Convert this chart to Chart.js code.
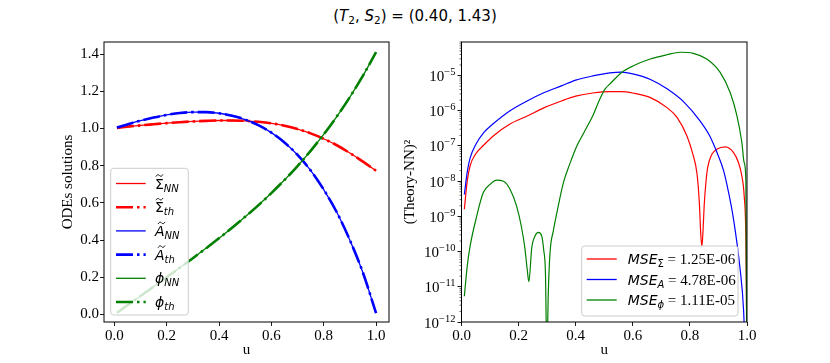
<!DOCTYPE html>
<html>
<head>
<meta charset="utf-8">
<script src="https://cdn.jsdelivr.net/npm/chart.js@4.4.1/dist/chart.umd.min.js"></script>
<style>
  body { margin: 0; background: #fff; width: 830px; height: 363px; overflow: hidden; position: relative; }
  #title { position: absolute; top: 7px; left: 0; width: 830px; text-align: center;
           font: 15px "DejaVu Sans"; color: #000; }
  #title sub { font-size: 70%; vertical-align: -0.3em; line-height: 0; }
  .box { position: absolute; top: 0; height: 363px; }
</style>
</head>
<body>
<div id="title">(<i>T</i><sub>2</sub>, <i>S</i><sub>2</sub>) = (0.40, 1.43)</div>
<div class="box" style="left:0;width:400px"><canvas id="left"></canvas></div>
<div class="box" style="left:400px;width:430px"><canvas id="right"></canvas></div>
<script>
// ---- left panel: ODE solutions ----
var uSol = [0.01, 0.05, 0.1, 0.15, 0.2, 0.25, 0.3, 0.35, 0.4, 0.45, 0.5, 0.55, 0.6, 0.65, 0.7, 0.75, 0.8, 0.85, 0.9, 0.95, 1.0];
var sigmaSol = [1.003, 1.010, 1.017, 1.023, 1.029, 1.034, 1.038, 1.041, 1.043, 1.043, 1.041, 1.036, 1.028, 1.015, 0.997, 0.974, 0.945, 0.910, 0.868, 0.822, 0.773];
var aSol = [1.005, 1.022, 1.042, 1.059, 1.073, 1.083, 1.088, 1.088, 1.082, 1.068, 1.048, 1.018, 0.978, 0.925, 0.858, 0.775, 0.672, 0.550, 0.400, 0.225, 0.008];
var phiSol = [0.010, 0.050, 0.100, 0.150, 0.200, 0.252, 0.303, 0.356, 0.410, 0.467, 0.526, 0.587, 0.653, 0.723, 0.798, 0.880, 0.968, 1.064, 1.169, 1.284, 1.410];
var leftXTicks = [0, 0.2, 0.4, 0.6, 0.8, 1.0];
var leftYTicks = [0, 0.2, 0.4, 0.6, 0.8, 1.0, 1.2, 1.4];
var leftMain = ['Σ', 'Σ', 'A', 'A', 'ϕ', 'ϕ'];
var leftTilde = [true, true, true, true, false, false];
var leftSub = ['NN', 'th', 'NN', 'th', 'NN', 'th'];

// ---- right panel: squared error (Theory-NN)^2 ----
var uErrSigma = [0.01, 0.02, 0.03, 0.05, 0.08, 0.11, 0.17, 0.23, 0.29, 0.35, 0.40, 0.46, 0.52, 0.56, 0.60, 0.66, 0.72, 0.755, 0.79, 0.81, 0.825, 0.833, 0.838, 0.842, 0.846, 0.850, 0.856, 0.862, 0.877, 0.894, 0.924, 0.953, 0.97, 0.982, 0.99, 0.996, 1.0];
var errSigma = [1.6e-9, 1.0e-8, 2.7e-8, 6.0e-8, 1.1e-7, 1.9e-7, 4.2e-7, 7.1e-7, 1.23e-6, 1.9e-6, 2.6e-6, 3.2e-6, 3.5e-6, 3.5e-6, 3.2e-6, 2.4e-6, 1.23e-6, 6.5e-7, 1.9e-7, 6.0e-8, 1.6e-8, 2.5e-9, 3.2e-10, 1.4e-10, 4e-10, 2e-9, 9e-9, 2.4e-8, 5.8e-8, 8.1e-8, 9.5e-8, 6.5e-8, 3.4e-8, 1.4e-8, 4e-9, 2.5e-10, 1e-13];
var uErrA = [0.01, 0.02, 0.03, 0.05, 0.08, 0.11, 0.17, 0.23, 0.29, 0.35, 0.40, 0.46, 0.52, 0.56, 0.60, 0.66, 0.72, 0.78, 0.836, 0.87, 0.895, 0.918, 0.935, 0.953, 0.976, 0.988, 0.994];
var errA = [4.2e-9, 1.8e-8, 4.5e-8, 1.1e-7, 2.5e-7, 4.2e-7, 1.0e-6, 1.9e-6, 3.3e-6, 5.1e-6, 7.4e-6, 9.8e-6, 1.2e-5, 1.26e-5, 1.12e-5, 7.9e-6, 4.2e-6, 1.74e-6, 5.1e-7, 1.9e-7, 6.5e-8, 2.0e-8, 5e-9, 8.1e-10, 3.1e-11, 2.2e-12, 1e-13];
var uErrPhi = [0.01, 0.02, 0.03, 0.053, 0.076, 0.10, 0.123, 0.147, 0.17, 0.193, 0.21, 0.222, 0.23, 0.236, 0.246, 0.258, 0.269, 0.281, 0.288, 0.294, 0.299, 0.304, 0.31, 0.322, 0.334, 0.357, 0.38, 0.404, 0.43, 0.462, 0.485, 0.503, 0.52, 0.561, 0.602, 0.661, 0.719, 0.766, 0.812, 0.859, 0.906, 0.941, 0.965, 0.982, 0.99, 0.996, 0.999];
var errPhi = [5.4e-12, 3.8e-11, 1.4e-10, 1.0e-9, 4.7e-9, 8.1e-9, 1.07e-8, 1.0e-8, 5.9e-9, 1.95e-9, 5e-10, 1.26e-10, 3.2e-11, 1.4e-11, 1.26e-10, 2.8e-10, 3.5e-10, 2.75e-10, 1.1e-10, 2.5e-11, 1e-13, 6.6e-12, 9.1e-11, 4e-10, 1.26e-9, 9.1e-9, 3.2e-8, 1e-7, 2.5e-7, 7.9e-7, 2.2e-6, 4.2e-6, 5.8e-6, 1.23e-5, 1.9e-5, 2.95e-5, 3.9e-5, 4.6e-5, 4.3e-5, 2.95e-5, 1.23e-5, 3.3e-6, 7.1e-7, 1.26e-7, 3.4e-8, 1.1e-8, 1e-13];
var rightXTicks = [0, 0.2, 0.4, 0.6, 0.8, 1.0];
var rightYTicks = [1e-12, 1e-11, 1e-10, 1e-9, 1e-8, 1e-7, 1e-6, 1e-5];
var mseSub = ['Σ', 'A', 'ϕ'];
var mseValues = ['1.25E-06', '4.78E-06', '1.11E-05'];

var RED = '#ff0000', BLUE = '#0000ff', GREEN = '#008000';
var DASHDOT = [17, 4, 2.5, 4];
var SERIF = '"Liberation Serif"';
var SANS = '"DejaVu Sans"';

Chart.defaults.font.family = SERIF;
Chart.defaults.font.size = 15;
Chart.defaults.color = '#000';

function pts(xs, ys) {
    return xs.map(function(x, i) { return {x: x, y: ys[i]}; });
}

// draws a matplotlib-like legend box with math-ish labels
function drawLegend(chart, rows, box) {
    var ctx = chart.ctx, a = chart.chartArea;
    var x0 = box.right != null ? a.right - box.right - box.w : a.left + box.left;
    var y0 = a.bottom - box.bottom - box.h;
    ctx.save();
    ctx.beginPath();
    ctx.roundRect(x0, y0, box.w, box.h, 3);
    ctx.fillStyle = 'rgba(255,255,255,0.8)';
    ctx.fill();
    ctx.strokeStyle = '#cccccc';
    ctx.lineWidth = 1;
    ctx.stroke();
    rows.forEach(function(r, i) {
        var y = y0 + box.first + i * box.step;
        ctx.beginPath();
        ctx.setLineDash(r.dash || []);
        ctx.lineCap = 'butt';
        ctx.strokeStyle = r.color;
        ctx.lineWidth = r.width;
        ctx.moveTo(x0 + box.lineX, y);
        ctx.lineTo(x0 + box.lineX + box.lineW, y);
        ctx.stroke();
        ctx.setLineDash([]);
        var x = x0 + box.textX;
        var base = y + box.base;
        ctx.fillStyle = '#000';
        ctx.textBaseline = 'alphabetic';
        ctx.textAlign = 'left';
        r.parts.forEach(function(p) {
            ctx.font = p.font;
            ctx.fillText(p.text, x, base + (p.dy || 0));
            var w = ctx.measureText(p.text).width;
            if (p.tilde) {
                // small tilde accent above the glyph
                var cx = x + w / 2 + (p.font.indexOf('italic') === 0 ? 1.8 : 0);
                var ty = base - 13;
                ctx.beginPath();
                ctx.strokeStyle = '#000';
                ctx.lineWidth = 1;
                ctx.moveTo(cx - 3.5, ty + 1);
                ctx.bezierCurveTo(cx - 2, ty - 1.6, cx - 0.5, ty - 0.6, cx, ty);
                ctx.bezierCurveTo(cx + 0.5, ty + 0.6, cx + 2, ty + 1.6, cx + 3.5, ty - 1);
                ctx.stroke();
            }
            x += w;
        });
    });
    ctx.restore();
}

var framePlugin = {
    id: 'frame',
    afterDatasetsDraw: function(chart) {
        var ctx = chart.ctx, a = chart.chartArea;
        var o = chart.options;
        ctx.save();
        if (o.logLabels) {
            var ys = chart.scales.y;
            ctx.strokeStyle = '#000';
            ctx.lineWidth = 0.6;
            o.minorTicks.forEach(function(v) {
                var py = ys.getPixelForValue(v);
                ctx.beginPath();
                ctx.moveTo(a.left - 2, py);
                ctx.lineTo(a.left, py);
                ctx.stroke();
            });
            // 10^n labels with raised exponent
            ctx.fillStyle = '#000';
            ctx.textBaseline = 'alphabetic';
            ctx.textAlign = 'left';
            o.logLabels.forEach(function(v) {
                var py = ys.getPixelForValue(v);
                var ex = '\u2212' + String(-Math.round(Math.log10(v)));
                ctx.font = '10.5px ' + SERIF;
                var we = ctx.measureText(ex).width;
                ctx.font = '15px ' + SERIF;
                var wb = ctx.measureText('10').width;
                var xe = a.left - 6;
                ctx.fillText('10', xe - we - wb, py + 5.5);
                ctx.font = '10.5px ' + SERIF;
                ctx.fillText(ex, xe - we, py - 0.5);
            });
        }
        ctx.strokeStyle = '#000';
        ctx.lineWidth = 1;
        ctx.strokeRect(a.left, a.top, a.right - a.left, a.bottom - a.top);
        ctx.restore();
        if (o.legendRows) {
            drawLegend(chart, o.legendRows, o.legendBox);
        }
    }
};

function axisCommon() {
    return {
        border: {display: false},
        grid: {display: true, drawOnChartArea: false, drawTicks: true, tickLength: 4, color: '#000', tickWidth: 0.9},
        ticks: {color: '#000', font: {family: SERIF, size: 15}, padding: 1, maxRotation: 0, autoSkip: false}
    };
}

// ---- left chart ----
var leftColors = [RED, RED, BLUE, BLUE, GREEN, GREEN];
var leftData = [sigmaSol, sigmaSol, aSol, aSol, phiSol, phiSol];
var leftDatasets = leftData.map(function(ys, i) {
    var th = i % 2 === 1;
    return {
        label: leftMain[i] + (leftTilde[i] ? '\u0303' : '') + '_' + leftSub[i],
        data: pts(uSol, ys),
        borderColor: leftColors[i],
        borderWidth: th ? 2.6 : 1.3,
        borderDash: th ? DASHDOT : [],
        borderCapStyle: 'butt',
        pointRadius: 0,
        cubicInterpolationMode: 'monotone',
        order: 10 - i
    };
});

var lx = axisCommon(), ly = axisCommon();
lx.type = 'linear'; lx.min = -0.0395; lx.max = 1.0495;
lx.afterBuildTicks = function(s) { s.ticks = leftXTicks.map(function(v) { return {value: v}; }); };
lx.ticks.callback = function(v) { return v.toFixed(1); };
lx.afterFit = function(s) { s.height = 41; };
lx.title = {display: true, text: 'u', color: '#000', font: {family: SERIF, size: 15}, padding: {top: 0, bottom: 4}};
ly.type = 'linear'; ly.min = -0.04; ly.max = 1.465;
ly.afterBuildTicks = function(s) { s.ticks = leftYTicks.map(function(v) { return {value: v}; }); };
ly.ticks.callback = function(v) { return v.toFixed(1); };
ly.afterFit = function(s) { s.width = 49; };
ly.title = {display: true, text: 'ODEs solutions', color: '#000', font: {family: SERIF, size: 15}, padding: {top: 4, bottom: 0}};

new Chart(document.getElementById('left'), {
    type: 'line',
    data: {datasets: leftDatasets},
    options: {
        responsive: true,
        maintainAspectRatio: false,
        animation: false,
        layout: {padding: {left: 55, right: 11, top: 42, bottom: 0}},
        plugins: {legend: {display: false}, tooltip: {enabled: false}},
        scales: {x: lx, y: ly},
        legendRows: leftDatasets.map(function(d, i) {
            return {
                color: d.borderColor, width: d.borderWidth, dash: d.borderDash,
                parts: [
                    {text: leftMain[i], font: (i < 2 ? '' : 'italic ') + '14px ' + SANS, tilde: leftTilde[i]},
                    {text: leftSub[i], font: 'italic 10px ' + SANS, dy: 3}
                ]
            };
        }),
        legendBox: {left: 6.7, bottom: 7, w: 77.6, h: 146.7, first: 15.2, step: 23.7, lineX: 5.3, lineW: 29.7, textX: 44.3, base: 5}
    },
    plugins: [framePlugin]
});

// ---- right chart ----
var minor = [];
rightYTicks.forEach(function(v) {
    for (var k = 2; k <= 9; k++) minor.push(v * k);
});

var rightDatasets = [
    {label: 'MSE_Σ = ' + mseValues[0], data: pts(uErrSigma, errSigma), borderColor: RED},
    {label: 'MSE_A = ' + mseValues[1], data: pts(uErrA, errA), borderColor: BLUE},
    {label: 'MSE_ϕ = ' + mseValues[2], data: pts(uErrPhi, errPhi), borderColor: GREEN}
].map(function(d, i) {
    d.borderWidth = 1.2;
    d.pointRadius = 0;
    d.cubicInterpolationMode = 'monotone';
    d.order = 10 - i;
    return d;
});

var rx = axisCommon(), ry = axisCommon();
rx.type = 'linear'; rx.min = 0; rx.max = 1;
rx.afterBuildTicks = function(s) { s.ticks = rightXTicks.map(function(v) { return {value: v}; }); };
rx.ticks.callback = function(v) { return v.toFixed(1); };
rx.afterFit = function(s) { s.height = 41; };
rx.title = {display: true, text: 'u', color: '#000', font: {family: SERIF, size: 15}, padding: {top: 0, bottom: 4}};
ry.type = 'logarithmic'; ry.min = 1e-12; ry.max = 9e-5;
ry.afterBuildTicks = function(s) { s.ticks = rightYTicks.map(function(v) { return {value: v, major: true}; }); };
ry.ticks.display = false;
ry.afterFit = function(s) { s.width = 60.5; };
ry.title = {display: true, text: '(Theory-NN)²', color: '#000', font: {family: SERIF, size: 15}, padding: {top: 0, bottom: 0}};

new Chart(document.getElementById('right'), {
    type: 'line',
    data: {datasets: rightDatasets},
    options: {
        responsive: true,
        maintainAspectRatio: false,
        animation: false,
        layout: {padding: {left: 1, right: 83, top: 42, bottom: 0}},
        plugins: {legend: {display: false}, tooltip: {enabled: false}},
        scales: {x: rx, y: ry},
        minorTicks: minor,
        logLabels: rightYTicks,
        legendRows: rightDatasets.map(function(d, i) {
            return {
                color: d.borderColor, width: 1.3,
                parts: [
                    {text: 'MSE', font: 'italic 14px ' + SANS},
                    {text: mseSub[i], font: (i === 0 ? '' : 'italic ') + '10px ' + SANS, dy: 3},
                    {text: ' = ' + mseValues[i], font: '15px ' + SERIF}
                ]
            };
        }),
        legendBox: {right: 9, bottom: 6, w: 156.3, h: 70, first: 13, step: 20.5, lineX: 5, lineW: 30, textX: 46, base: 5}
    },
    plugins: [framePlugin]
});
</script>
</body>
</html>
